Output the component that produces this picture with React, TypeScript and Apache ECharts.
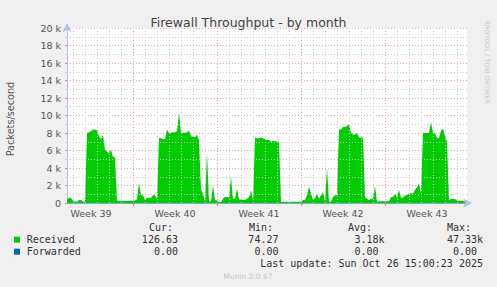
import React, { useEffect, useRef } from 'react';
import * as echarts from 'echarts';

// Time axis: hours since Mon 00:00 of week 39
const weekLabels = ['Week 39', 'Week 40', 'Week 41', 'Week 42', 'Week 43'];
const weekHours = 168;
const dayHours = 24;
const startHour = 36;
const endHour = 836;
const sampleStep = 4;

// Received packets/second, one sample every 4 hours
const received = [
  400, 600, 550, 300, 150, 150, 350, 350, 150, 150,
  8000, 8100, 8200, 8400, 8400, 8300, 7600, 7300, 7800, 6050,
  5900, 5700, 6100, 5300, 5200, 250, 250, 250, 250, 250,
  250, 250, 250, 250, 300, 400, 2300, 900, 900, 350,
  600, 600, 600, 900, 900, 500, 7400, 7400, 7300, 7300,
  8400, 8000, 8000, 8100, 8100, 8200, 10300, 8000, 8000, 8000,
  8100, 8300, 7600, 7600, 7500, 7800, 7100, 1500, 1100, 150,
  5700, 200, 200, 2000, 350, 300, 100, 100, 500, 700,
  700, 600, 3000, 500, 500, 1600, 400, 400, 350, 350,
  500, 700, 1500, 350, 7500, 7400, 7400, 7500, 7400, 7300,
  7200, 7200, 7000, 7100, 7100, 7000, 7000, 150, 150, 150,
  150, 150, 150, 150, 150, 150, 150, 150, 350, 350,
  900, 1900, 1100, 350, 600, 1100, 500, 900, 1300, 150,
  4000, 150, 150, 700, 900, 900, 8400, 8400, 8700, 8700,
  8800, 9000, 8000, 7800, 7800, 8000, 7500, 7500, 7500, 700,
  500, 350, 500, 500, 1950, 150, 200, 200, 200, 200,
  200, 200, 700, 700, 1100, 600, 1500, 600, 600, 900,
  900, 1100, 1100, 1100, 1500, 1800, 2250, 1100, 8000, 8000,
  8000, 8000, 9300, 8000, 8000, 7400, 7400, 8300, 8500, 7600,
  7000, 350, 450, 450, 450, 250, 250, 250, 250, 150,
];

// Forwarded stays at zero for the whole period
const forwardedHours = [36, 832];
const forwarded = [0, 0];

const yMax = 20000;
const yMajor = 2000;
const yMinorTicks = [1000, 3000, 5000, 7000, 9000, 11000, 13000, 15000, 17000, 19000];

const legendNames = ['Received', 'Forwarded'];
const legendColors = ['#00CC00', '#0066B3'];
const curValues = [126.63, 0];
const minValues = [74.27, 0];
const avgValues = [3180, 0];
const maxValues = [47330, 0];
const columnHeaders = ['Cur:', 'Min:', 'Avg:', 'Max:'];
const lastUpdate = 'Last update: Sun Oct 26 15:00:23 2025';

const MONO = '10px "DejaVu Sans Mono"';
const CHAR_W = 6.02;
const MAJOR_GRID = { color: '#eaa0a0', type: [1, 2], width: 1 };
const MINOR_GRID = { color: '#cccccc', type: [1, 2], width: 1 };

function fmt(v: number): { text: string; suffix: boolean } {
  if (Math.abs(v) >= 1000) return { text: (v / 1000).toFixed(2) + 'k', suffix: true };
  return { text: v.toFixed(2), suffix: false };
}

export default function App() {
  const ref = useRef<HTMLDivElement>(null);
  useEffect(() => {
    if (!ref.current) return;
    const chart = echarts.init(ref.current, undefined, { renderer: 'svg' });

    const weekBoundaries: number[] = [];
    for (let h = weekHours; h < endHour; h += weekHours) weekBoundaries.push(h);
    const weekMids = weekLabels.map((_, i) => i * weekHours + weekHours / 2);
    const dayLines: number[] = [];
    for (let h = dayHours; h < endHour; h += dayHours) {
      if (h > startHour && h % weekHours !== 0) dayLines.push(h);
    }

    const gridLines: any[] = [
      ...dayLines.map((h) => ({ xAxis: h, lineStyle: MINOR_GRID })),
      ...yMinorTicks.map((v) => ({ yAxis: v, lineStyle: MINOR_GRID })),
      ...weekBoundaries.map((h) => ({ xAxis: h, lineStyle: MAJOR_GRID })),
    ];

    const colRight = [184, 284.5, 384.5, 483];
    const colHeaderX = [149, 249, 348, 447];
    const rowY = [239.7, 251.7];
    const graphics: any[] = [];
    columnHeaders.forEach((h, i) => {
      graphics.push({ type: 'text', x: colHeaderX[i], y: 227.3, style: { text: h, font: MONO, fill: '#333', textAlign: 'left', textVerticalAlign: 'middle' } });
    });
    legendNames.forEach((name, r) => {
      graphics.push({ type: 'rect', shape: { x: 14, y: rowY[r] - 3, width: 6, height: 6 }, style: { fill: legendColors[r] } });
      graphics.push({ type: 'text', x: 26.7, y: rowY[r], style: { text: name, font: MONO, fill: '#333', textAlign: 'left', textVerticalAlign: 'middle' } });
      [curValues[r], minValues[r], avgValues[r], maxValues[r]].forEach((v, c) => {
        const f = fmt(v);
        graphics.push({ type: 'text', x: f.suffix ? colRight[c] : colRight[c] - CHAR_W, y: rowY[r], style: { text: f.text, font: MONO, fill: '#333', textAlign: 'right', textVerticalAlign: 'middle' } });
      });
    });
    graphics.push({ type: 'text', x: 483, y: 263.3, style: { text: lastUpdate, font: MONO, fill: '#333', textAlign: 'right', textVerticalAlign: 'middle' } });
    graphics.push({ type: 'text', x: 248, y: 276, style: { text: 'Munin 2.0.67', font: '7.5px "DejaVu Sans"', fill: '#c4c4c4', textAlign: 'center', textVerticalAlign: 'middle' } });
    graphics.push({ type: 'text', x: 486.5, y: 62, rotation: -Math.PI / 2, style: { text: 'RRDTOOL / TOBI OETIKER', font: '6.5px "DejaVu Sans"', fill: '#c8c8c8', textAlign: 'center', textVerticalAlign: 'middle' } });
    graphics.push({ type: 'text', x: 10.5, y: 119, rotation: Math.PI / 2, style: { text: 'Packets/second', font: '9.7px "DejaVu Sans"', fill: '#555', textAlign: 'center', textVerticalAlign: 'middle' } });

    chart.setOption({
      animation: false,
      backgroundColor: '#f0f0f0',
      title: {
        text: 'Firewall Throughput - by month',
        left: 'center',
        top: 11,
        textStyle: { fontFamily: 'DejaVu Sans', fontSize: 12.5, fontWeight: 'normal', color: '#444' },
      },
      grid: { left: 67, top: 28, width: 400, height: 175, show: true, backgroundColor: '#ffffff', borderWidth: 0 },
      xAxis: [
        {
          type: 'value', min: startHour, max: endHour, position: 'bottom',
          axisLine: { show: true, lineStyle: { color: '#b4bcf0', width: 1 }, symbol: ['none', 'arrow'], symbolSize: [7, 9], symbolOffset: [0, 5] },
          axisTick: { show: true, customValues: weekBoundaries, length: 3, lineStyle: { color: '#e08080' } },
          axisLabel: {
            show: true, customValues: weekMids, margin: 5, color: '#555', fontFamily: 'DejaVu Sans', fontSize: 9.5,
            formatter: (v: number) => weekLabels[Math.round((v - weekHours / 2) / weekHours)] || '',
          },
          splitLine: { show: false },
        },
      ],
      yAxis: [
        {
          type: 'value', min: 0, max: yMax, interval: yMajor, position: 'left',
          axisLine: { show: true, lineStyle: { color: '#b4bcf0', width: 1 }, symbol: ['none', 'arrow'], symbolSize: [7, 9], symbolOffset: [0, 5] },
          axisTick: { show: true, length: 2, lineStyle: { color: '#e08080' } },
          axisLabel: { margin: 6, color: '#555', fontFamily: 'DejaVu Sans', fontSize: 9.5, formatter: (v: number) => (v === 0 ? '0' : v / 1000 + ' k') },
          splitLine: { show: true, lineStyle: MAJOR_GRID },
        },
        {
          type: 'value', min: 0, max: yMax, position: 'left',
          axisLine: { show: false },
          axisTick: { show: true, customValues: yMinorTicks, length: 2, lineStyle: { color: '#c8c8c8' } },
          axisLabel: { show: false },
          splitLine: { show: false },
        },
      ],
      series: [
        {
          name: 'Forwarded', type: 'line', xAxisIndex: 0, yAxisIndex: 0, z: 1,
          data: forwardedHours.map((h, i) => [h, forwarded[i]]),
          symbol: 'none', showSymbol: false,
          lineStyle: { width: 1, color: '#0066B3' },
          markLine: { silent: true, symbol: ['none', 'none'], label: { show: false }, emphasis: { disabled: true }, data: gridLines },
        },
        {
          name: 'Received', type: 'line', xAxisIndex: 0, yAxisIndex: 0, z: 2,
          data: received.map((v, i) => [startHour + i * sampleStep, v]),
          symbol: 'none', showSymbol: false,
          lineStyle: { width: 0, color: '#00CC00' },
          itemStyle: { color: '#00CC00' },
          areaStyle: { color: '#00CC00', opacity: 1 },
        },
      ],
      graphic: graphics,
    });
    return () => chart.dispose();
  }, []);
  return <div ref={ref} style={{ position: 'absolute', left: 0, top: 0, width: 497, height: 287 }} />;
}
